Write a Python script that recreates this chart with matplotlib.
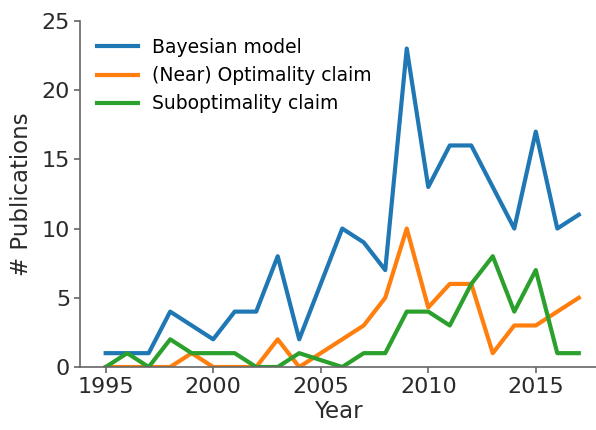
import matplotlib
matplotlib.use("Agg")
import matplotlib.pyplot as plt

years = list(range(1995, 2018))
bayesian = [1, 1, 1, 4, 3, 2, 4, 4, 8, 2, 6, 10, 9, 7, 23, 13, 16, 16, 13, 10, 17, 10, 11]
optimal = [0, 0, 0, 0, 1, 0, 0, 0, 2, 0, 1, 2, 3, 5, 10, 4.3, 6, 6, 1, 3, 3, 4, 5]
suboptimal = [0, 1, 0, 2, 1, 1, 1, 0, 0, 1, 0.5, 0, 1, 1, 4, 4, 3, 6, 8, 4, 7, 1, 1]
labels = ["Bayesian model", "(Near) Optimality claim", "Suboptimality claim"]
xticks = [1995, 2000, 2005, 2010, 2015]
yticks = [0, 5, 10, 15, 20, 25]

plt.rcParams['font.family'] = ['DejaVu Sans']
fig = plt.figure(figsize=(5.96, 4.30), dpi=100)
ax = fig.add_axes([0.134, 0.1465, 0.866, 0.805])

colors = ['#1f77b4', '#ff7f0e', '#2ca02c']
for series, lab, c in zip([bayesian, optimal, suboptimal], labels, colors):
    ax.plot(years, series, color=c, lw=3, label=lab)

ax.set_xlim(1993.8, 2017.8)
ax.set_ylim(0, 25)
ax.set_xticks(xticks)
ax.set_yticks(yticks)
for s in ['top', 'right']:
    ax.spines[s].set_visible(False)
for s in ['left', 'bottom']:
    ax.spines[s].set_color('#666666')
    ax.spines[s].set_linewidth(1.2)
ax.tick_params(labelsize=16, colors='#666666', labelcolor='#2a2a2a', length=4, width=1.2, pad=3)
ax.set_xlabel('Year', fontsize=16.5, color='#2a2a2a', labelpad=2)
ax.set_ylabel('# Publications', fontsize=16.5, color='#2a2a2a', labelpad=6)
ax.legend(loc='upper left', frameon=False, fontsize=13.5, handlelength=2.2,
          bbox_to_anchor=(0.0, 1.0), labelspacing=0.5, handletextpad=0.75)

fig.savefig('out.png', dpi=100)
